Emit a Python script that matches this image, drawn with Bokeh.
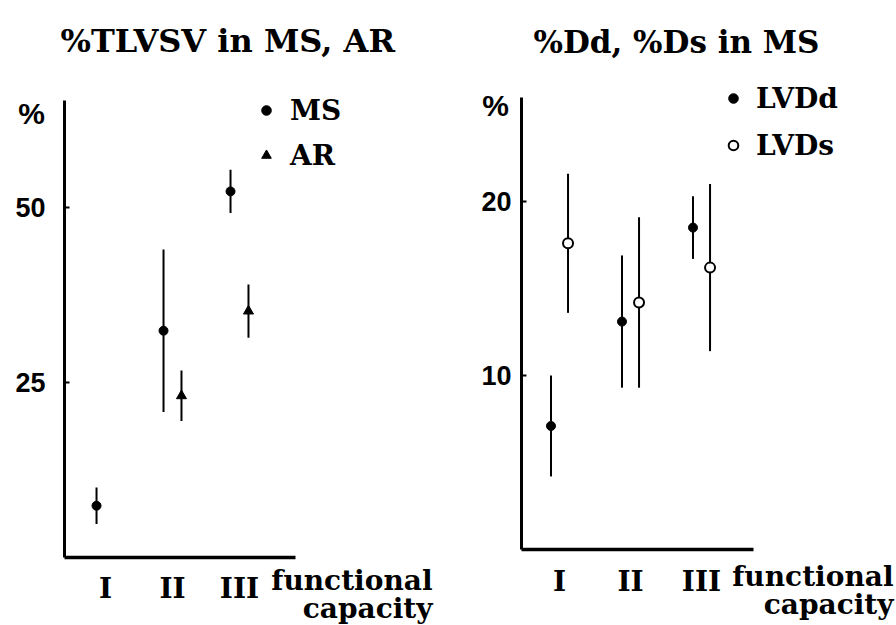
from bokeh.plotting import figure
from bokeh.layouts import row
from bokeh.models import Label, Legend, LegendItem, FixedTicker
from bokeh.embed import file_html
from bokeh.resources import INLINE

# ---------------- data ----------------
capacity = ["I", "II", "III"]

# left panel: %TLVSV in MS, AR
ms_cat = ["I", "II", "III"]
ms_mean = [7.4, 32.4, 52.3]
ms_sd = [2.6, 11.6, 3.1]
ar_cat = ["II", "III"]
ar_mean = [23.1, 35.2]
ar_sd = [3.6, 3.8]
left_ticks = [25, 50]

# right panel: %Dd, %Ds in MS
lvdd_cat = ["I", "II", "III"]
lvdd_mean = [7.1, 13.1, 18.5]
lvdd_sd = [2.9, 3.8, 1.8]
lvds_cat = ["I", "II", "III"]
lvds_mean = [17.6, 14.2, 16.2]
lvds_sd = [4.0, 4.9, 4.8]
right_ticks = [10, 20]

SERIF = "DejaVu Serif"
SANS = "Liberation Sans"
pos = {c: i + 1 for i, c in enumerate(capacity)}


def style(p, yticks, x0, xend, ytop, ystandoff, xstandoff,
          title_size, title_offset, title_standoff):
    p.grid.visible = False
    p.outline_line_color = None
    p.background_fill_color = "white"
    p.border_fill_color = "white"
    p.xaxis.fixed_location = 0
    p.yaxis.fixed_location = x0
    p.xaxis.ticker = FixedTicker(ticks=[pos[c] for c in capacity])
    p.xaxis.major_label_overrides = {pos[c]: c for c in capacity}
    p.xaxis.bounds = (x0, xend)
    p.yaxis.bounds = (0, ytop)
    p.yaxis.ticker = FixedTicker(ticks=yticks)
    for ax in (p.xaxis, p.yaxis):
        ax.axis_line_color = "black"
        ax.minor_tick_line_color = None
    p.xaxis.axis_line_width = 3.5
    p.yaxis.axis_line_width = 3
    p.xaxis.major_tick_line_color = None
    p.xaxis.major_tick_in = 0
    p.xaxis.major_tick_out = 0
    p.xaxis.major_label_standoff = xstandoff
    p.xaxis.major_label_text_font = SERIF
    p.xaxis.major_label_text_font_style = "bold"
    p.xaxis.major_label_text_font_size = "28px"
    p.xaxis.major_label_text_color = "black"
    p.yaxis.major_tick_in = 5
    p.yaxis.major_tick_out = 0
    p.yaxis.major_tick_line_width = 2
    p.yaxis.major_label_standoff = ystandoff
    p.yaxis.major_label_text_font = SANS
    p.yaxis.major_label_text_font_style = "bold"
    p.yaxis.major_label_text_font_size = "27px"
    p.yaxis.major_label_text_color = "black"
    p.title.text_font = SERIF
    p.title.text_font_style = "bold"
    p.title.text_font_size = title_size
    p.title.text_color = "black"
    p.title.align = "left"
    p.title.offset = title_offset
    p.title.standoff = title_standoff


def text_label(p, x, y, t, font, size, align="right"):
    p.add_layout(Label(x=x, y=y, text=t, text_align=align, text_baseline="middle",
                       text_font=font, text_font_style="bold",
                       text_font_size=size, text_color="black"))


def legend(p, items, loc, spacing, standoff):
    lg = Legend(items=items, location=loc, label_text_font=SERIF,
                label_text_font_style="bold", label_text_font_size="28px",
                label_text_color="black",
                glyph_width=24, glyph_height=36, label_height=36, spacing=spacing,
                padding=0, margin=0, border_line_color=None,
                background_fill_alpha=0, label_standoff=standoff)
    p.add_layout(lg)


# ---------------- left panel ----------------
d1 = 0.134
p1 = figure(width=448, height=625, x_range=(-0.5672, 6.1194), y_range=(-9.714, 70.43),
            output_backend="svg", toolbar_location=None,
            min_border_left=0, min_border_right=0, min_border_top=64,
            min_border_bottom=0, title="%TLVSV  in  MS, AR")
style(p1, left_ticks, 0.388, 3.836, 65.3, 19, 14, "32px", 60, 10)

x_ms = [pos[c] - d1 for c in ms_cat]
x_ar = [pos[c] + d1 for c in ar_cat]
p1.segment(x0=x_ms, y0=[m - s for m, s in zip(ms_mean, ms_sd)],
           x1=x_ms, y1=[m + s for m, s in zip(ms_mean, ms_sd)],
           line_width=2, line_color="black")
p1.segment(x0=x_ar, y0=[m - s for m, s in zip(ar_mean, ar_sd)],
           x1=x_ar, y1=[m + s for m, s in zip(ar_mean, ar_sd)],
           line_width=2, line_color="black")
r_ms = p1.scatter(x_ms, ms_mean, marker="circle", size=9, color="black")
r_ar = p1.scatter(x_ar, ar_mean, marker="triangle", size=10, color="black")
legend(p1, [LegendItem(label="MS", renderers=[r_ms]),
            LegendItem(label="AR", renderers=[r_ar])], (254, 452), 9, 12)
text_label(p1, -0.1045, 63.5, "%", SANS, "30px", "center")
text_label(p1, 5.881, -3.286, "functional", SERIF, "28px")
text_label(p1, 5.881, -7.286, "capacity", SERIF, "28px")

# ---------------- right panel ----------------
d2 = 0.12
p2 = figure(width=448, height=625, x_range=(-0.5634, 5.746), y_range=(-4.368, 27.874),
            output_backend="svg", toolbar_location=None,
            min_border_left=0, min_border_right=0, min_border_top=64,
            min_border_bottom=0, title="%Dd, %Ds  in  MS")
style(p2, right_ticks, 0.465, 3.73, 26.0, 10, 16, "31px", 85, 10)

x_dd = [pos[c] - d2 for c in lvdd_cat]
x_ds = [pos[c] + d2 for c in lvds_cat]
p2.segment(x0=x_dd, y0=[m - s for m, s in zip(lvdd_mean, lvdd_sd)],
           x1=x_dd, y1=[m + s for m, s in zip(lvdd_mean, lvdd_sd)],
           line_width=2, line_color="black")
p2.segment(x0=x_ds, y0=[m - s for m, s in zip(lvds_mean, lvds_sd)],
           x1=x_ds, y1=[m + s for m, s in zip(lvds_mean, lvds_sd)],
           line_width=2, line_color="black")
r_dd = p2.scatter(x_dd, lvdd_mean, marker="circle", size=9, color="black")
r_ds = p2.scatter(x_ds, lvds_mean, marker="circle", size=10, fill_color="white",
                  line_color="black", line_width=2)
legend(p2, [LegendItem(label="LVDd", renderers=[r_dd]),
            LegendItem(label="LVDs", renderers=[r_ds])], (273, 462), 11, 11)
text_label(p2, 0.0986, 25.5, "%", SANS, "30px", "center")
text_label(p2, 5.704, -1.552, "functional", SERIF, "28px")
text_label(p2, 5.704, -3.161, "capacity", SERIF, "28px")

layout = row(p1, p2)
open("out.html", "w").write(file_html(layout, INLINE))
